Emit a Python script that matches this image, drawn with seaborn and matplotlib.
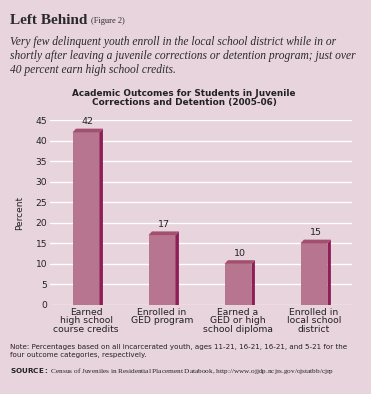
import matplotlib
matplotlib.use('Agg')
import matplotlib.pyplot as plt
import seaborn as sns
import pandas as pd
from matplotlib.patches import Polygon

categories = ['Earned\nhigh school\ncourse credits', 'Enrolled in\nGED program',
              'Earned a\nGED or high\nschool diploma', 'Enrolled in\nlocal school\ndistrict']
percent = [42, 17, 10, 15]
yticks = [0, 5, 10, 15, 20, 25, 30, 35, 40, 45]

bg = '#e8d4dc'
front = '#b87590'
side = '#8e1f56'
top = '#a3506f'

df = pd.DataFrame({'outcome': categories, 'percent': percent})

sns.set_style('white')
plt.rcParams['font.family'] = ['DejaVu Sans']

fig = plt.figure(figsize=(3.71, 3.94), dpi=100)
fig.patch.set_facecolor(bg)
ax = fig.add_axes([50/371, 1 - 305/394, 302/371, 185/394])
ax.set_facecolor(bg)

sns.barplot(data=df, x='outcome', y='percent', color=front, width=0.355,
            saturation=1, ax=ax, zorder=3, edgecolor=front, linewidth=0)

# fake 3d: side and top faces built from each bar
dx, dy = 0.045, 0.9
for p in ax.patches:
    x0, w, h = p.get_x(), p.get_width(), p.get_height()
    ax.add_patch(Polygon([(x0 + w, 0), (x0 + w + dx, 0), (x0 + w + dx, h + dy), (x0 + w, h)],
                         closed=True, color=side, zorder=3, lw=0))
    ax.add_patch(Polygon([(x0, h), (x0 + w, h), (x0 + w + dx, h + dy), (x0 + dx, h + dy)],
                         closed=True, color=top, zorder=3, lw=0))
    ax.text(x0 + w / 2 + dx / 2, h + dy + 0.6, f'{int(h)}', ha='center', va='bottom',
            fontsize=6.8, color='#222222')

ax.set_ylim(0, 45)
ax.set_xlim(-0.474, 3.5)
ax.set_yticks(yticks)
ax.yaxis.grid(True, color='white', lw=1, zorder=0)
ax.set_axisbelow(True)
for s in ax.spines.values():
    s.set_visible(False)
ax.tick_params(axis='both', length=0, labelsize=6.6, colors='#222222', pad=2)
ax.set_xlabel('')
ax.set_ylabel('Percent', fontsize=6.5, color='#222222', labelpad=8)
ax.set_xticks(range(len(categories)))
ax.set_xticklabels(categories, fontsize=6.7, linespacing=0.95)

fig.text(10/371, 1 - 20/394, 'Left Behind', family='Liberation Serif', fontsize=11,
         fontweight='bold', color='#2a2a2a', va='center')
fig.text(91/371, 1 - 21/394, '(Figure 2)', family='Liberation Serif', fontsize=6,
         color='#2a2a2a', va='center')
fig.text(10/371, 1 - 36/394,
         'Very few delinquent youth enroll in the local school district while in or\n'
         'shortly after leaving a juvenile corrections or detention program; just over\n'
         '40 percent earn high school credits.',
         family='Liberation Serif', style='italic', fontsize=8.3, color='#2a2a2a',
         va='top', linespacing=1.2)
fig.text(184/371, 1 - 98/394,
         'Academic Outcomes for Students in Juvenile\nCorrections and Detention (2005-06)',
         ha='center', va='center', fontsize=6.4, fontweight='bold', color='#222222',
         linespacing=1.1)
fig.text(10/371, 1 - 344/394,
         'Note: Percentages based on all incarcerated youth, ages 11-21, 16-21, 16-21, and 5-21 for the\n'
         'four outcome categories, respectively.',
         fontsize=5.1, color='#222222', va='top', linespacing=1.4)
fig.text(10/371, 1 - 371/394,
         r'$\bf{SOURCE:}$ Census of Juveniles in Residential Placement Databook, http://www.ojjdp.ncjrs.gov/ojstatbb/cjrp',
         family='Liberation Serif', fontsize=5.2, color='#222222', va='center')

fig.savefig('out.png', dpi=100, facecolor=bg)
